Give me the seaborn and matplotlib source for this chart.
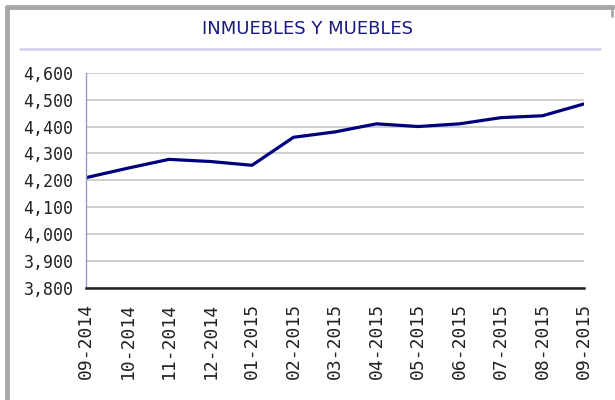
import matplotlib
matplotlib.use("Agg")
import matplotlib.pyplot as plt
import seaborn as sns
import pandas as pd
from matplotlib.lines import Line2D

months = ["09-2014", "10-2014", "11-2014", "12-2014", "01-2015", "02-2015", "03-2015",
          "04-2015", "05-2015", "06-2015", "07-2015", "08-2015", "09-2015"]
values = [4210, 4245, 4278, 4270, 4256, 4360, 4380, 4410, 4400, 4410, 4433, 4440, 4484]
yticks = [3800, 3900, 4000, 4100, 4200, 4300, 4400, 4500, 4600]
title = "INMUEBLES Y MUEBLES"

sns.set_theme(style="white")
plt.rcParams['font.family'] = ['DejaVu Sans']

df = pd.DataFrame({"mes": months, "valor": values, "idx": range(len(months))})

fig = plt.figure(figsize=(6.15, 4.0), dpi=100)
ax = fig.add_axes([86/615, 1-288/400, (584-86)/615, (288-72.7)/400])

sns.lineplot(data=df, x="idx", y="valor", ax=ax, color="#00007f", linewidth=2.3)

ax.set_xlim(0, len(months)-1)
ax.set_ylim(3800, 4600)
ax.set_yticks(yticks)
ax.set_yticklabels([f"{v:,}" for v in yticks], fontsize=12, color="#222222",
                   family=["DejaVu Sans Mono"])
ax.set_xticks(range(len(months)))
ax.set_xticklabels(months, rotation=90, fontsize=13, color="#222222",
                   family=["DejaVu Sans Mono"])
ax.set_xlabel("")
ax.set_ylabel("")
ax.tick_params(axis="y", length=0, pad=9)
ax.tick_params(axis="x", length=0, pad=11)
ax.grid(axis="y", color="#cccccc", linewidth=1.3)
ax.grid(axis="x", visible=False)
for s in ["top", "right"]:
    ax.spines[s].set_visible(False)
ax.spines["left"].set_color("#9a9ac8")
ax.spines["left"].set_linewidth(1.0)
ax.spines["bottom"].set_color("#222222")
ax.spines["bottom"].set_linewidth(1.8)

fig.text(308/615, 1-29/400, title, ha="center", va="center", fontsize=13,
         color="#1a1a80", family=["Liberation Sans Narrow", "DejaVu Sans"])
# line under title
fig.add_artist(Line2D([20/615, 600/615], [1-48.5/400, 1-48.5/400], color="#d0d0ea", linewidth=1.8))
# outer frame (top and left)
fig.add_artist(Line2D([7/615, 613/615], [1-7/400, 1-7/400], color="#a8a8a8", linewidth=3.5))
fig.add_artist(Line2D([7/615, 7/615], [0, 1-7/400], color="#a8a8a8", linewidth=3.5))
fig.add_artist(Line2D([612/615, 612/615], [1-7/400, 1-16/400], color="#a8a8a8", linewidth=2))

fig.savefig("out.png", dpi=100)
